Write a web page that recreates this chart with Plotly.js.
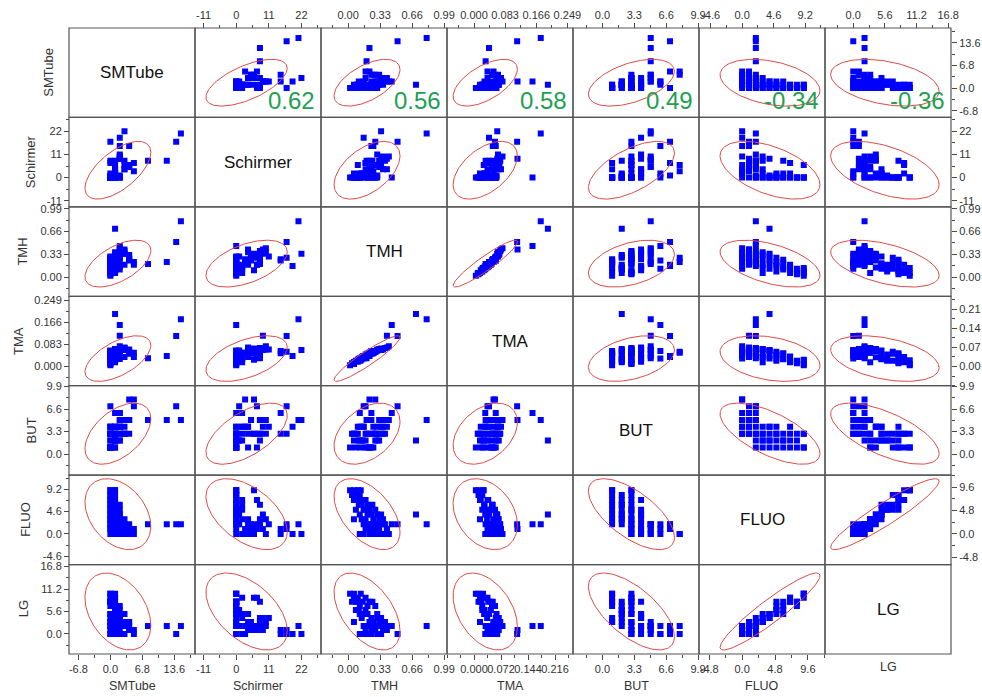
<!DOCTYPE html>
<html>
<head>
<meta charset="utf-8">
<script src="https://cdn.plot.ly/plotly-3.0.1.min.js"></script>
<style>
  html, body { margin: 0; padding: 0; background: #fff; }
  #chart { width: 982px; height: 697px; }
</style>
</head>
<body>
<div id="chart"></div>
<script>
// Variables of the scatterplot matrix, in row / column order
const names = ["SMTube", "Schirmer", "TMH", "TMA", "BUT", "FLUO", "LG"];

// Per-subject measurements (null = not measured)
const smtube = [8, 12, 14, 15, 1, 2, 2,
  0, 0, 1, 1,  0, 1, 0,  0, 1, 0, 1,  0, 1, 0, 2,  0, 1, 2, 0, 1,  0, 2, 1, 2, 0,
  0, 1, 3, 2, 1, 0,  0, 1, 3, 2, 4, 0, 3,  0, 1, 4, 2, 5, 3, 0,  0, 1, 2, 4, 5, 3, 4, 2, 1];
const schirmer = [8, 8, 17, 21, null, 0, 9,
  0, 0, 6, 0,  0, 0, 0,  7, 0, 0, 2,  0, 2, 8, 0,  0, 1, 0, 2, 0,  0, 1, 0, 9, 0,
  0, 8, 4, 10, 2, 0,  0, 4, 6, 11, 5, 1, 8,  0, 3, 5, 15, 7, 4, 17,  0, 4, 19, 6, 3, 22, 15, 10, 2];
const tmh = [0.19, 0.22, 0.51, 0.81, 0.70, 0.45, 0.40,
  0.02, 0.06, 0.10, 0.13,  0.08, 0.12, 0.04,  0.18, 0.15, 0.10, 0.06,  0.20, 0.14, 0.25, 0.11,
  0.22, 0.18, 0.28, 0.16, 0.08,  0.24, 0.30, 0.20, 0.34, 0.12,  0.26, 0.32, 0.18, 0.36, 0.14, 0.06,
  0.28, 0.22, 0.34, 0.30, 0.24, 0.16, 0.38,  0.20, 0.26, 0.32, 0.24, 0.18, 0.40, 0.28,
  0.30, 0.36, 0.16, 0.28, 0.22, 0.34, 0.26, 0.42, 0.12];
const tma = [0.031, 0.040, 0.115, 0.178, 0.197, 0.156, 0.116,
  0.005, 0.010, 0.026, 0.024,  0.020, 0.022, 0.012,  0.036, 0.038, 0.018, 0.016,  0.048, 0.027, 0.050, 0.028,
  0.044, 0.045, 0.056, 0.030, 0.022,  0.058, 0.060, 0.040, 0.062, 0.030,  0.052, 0.066, 0.036, 0.064, 0.035, 0.016,
  0.058, 0.052, 0.068, 0.064, 0.048, 0.040, 0.070,  0.048, 0.052, 0.064, 0.058, 0.036, 0.072, 0.056,
  0.060, 0.066, 0.040, 0.056, 0.052, 0.062, 0.050, 0.076, 0.030];
const but = [5, 5, 7, 5, 2, 6, 5,
  1, 3, 3, 1,  1, 2, 3,  1, 2, 4, 3,  1, 2, 3, 2,  1, 2, 3, 4, 3,  1, 2, 3, 4, 4,
  1, 2, 3, 3, 4, 2,  2, 1, 3, 4, 5, 7, 3,  3, 4, 5, 6, 7, 4, 3,  3, 4, 4, 8, 8, 5, 3, 5, 6];
const fluo = [2, 2, 2, 2, 4, 2, 1,
  9, 9, 9, 9,  8, 8, 8,  7, 7, 7, 7,  6, 6, 6, 6,  5, 5, 5, 5, 5,  4, 4, 4, 4, 4,
  3, 3, 3, 3, 3, 3,  2, 2, 2, 2, 2, 2, 2,  1, 1, 1, 1, 1, 1, 1,  0, 0, 0, 0, 0, 0, 0, 0, 0];
const lg = [2, 2, 0, 2, null, 2, 1,
  10, 10, 9, 10,  8, 7, 8,  9, 8, 8, 9,  7, 5, 8, 6,  8, 6, 7, 5, 6,  4, 5, 5, 4, 5,
  3, 4, 5, 3, 4, 3,  2, 3, 2, 4, 1, 2, 3,  0, 2, 3, 0, 1, 2, 1,  0, 1, 0, 2, 0, 0, 1, 2, 0];
const columns = [smtube, schirmer, tmh, tma, but, fluo, lg];

// Axis ranges, shared by the row and the column of each variable
const axisRanges = [[-8.8, 18.0], [-13.9, 28.6], [-0.28, 1.02], [-0.072, 0.264],
                    [-3.05, 10.0], [-6.3, 12.1], [-5.0, 17.3]];

// Ticks on the left and top edges
const ticksLT = [null, [-11, 0, 11, 22], [0, 0.33, 0.66, 0.99], [0, 0.083, 0.166, 0.249],
                 [0, 3.3, 6.6, 9.9], [-4.6, 0, 4.6, 9.2], [0, 5.6, 11.2, 16.8]];
const labelsLT = [null, ["-11", "0", "11", "22"], ["0.00", "0.33", "0.66", "0.99"],
                  ["0.000", "0.083", "0.166", "0.249"], ["0.0", "3.3", "6.6", "9.9"],
                  ["-4.6", "0.0", "4.6", "9.2"], ["0.0", "5.6", "11.2", "16.8"]];
// Ticks on the right and bottom edges
const ticksRB = [[-6.8, 0, 6.8, 13.6], [-11, 0, 11, 22], [0, 0.33, 0.66, 0.99], [0, 0.072, 0.144, 0.216],
                 [0, 3.3, 6.6, 9.9], [-4.8, 0, 4.8, 9.6], null];
const labelsRight = [["-6.8", "0.0", "6.8", "13.6"], ["-11", "0", "11", "22"], ["0.00", "0.33", "0.66", "0.99"],
                     ["0.00", "0.07", "0.14", "0.21"], ["0.0", "3.3", "6.6", "9.9"],
                     ["-4.8", "0.0", "4.8", "9.6"], null];
const labelsBottom = [["-6.8", "0.0", "6.8", "13.6"], ["-11", "0", "11", "22"], ["0.00", "0.33", "0.66", "0.99"],
                      ["0.000", "0.072", "0.144", "0.216"], ["0.0", "3.3", "6.6", "9.9"],
                      ["-4.8", "0.0", "4.8", "9.6"], null];

// Bivariate summaries used for the 95% density ellipses
const means = [1.6, 3.5, 0.195, 0.030, 3.0, 4.07, 5.6];
const sds   = [2.86, 5.6, 0.139, 0.035, 1.82, 2.98, 3.92];
const corr = [
  [1.00, 0.62, 0.56, 0.58, 0.49, -0.34, -0.36],
  [0.62, 1.00, 0.50, 0.50, 0.60, -0.50, -0.50],
  [0.56, 0.50, 1.00, 0.93, 0.40, -0.50, -0.50],
  [0.58, 0.50, 0.93, 1.00, 0.38, -0.30, -0.40],
  [0.49, 0.60, 0.40, 0.38, 1.00, -0.65, -0.65],
  [-0.34, -0.50, -0.50, -0.30, -0.65, 1.00, 0.93],
  [-0.36, -0.50, -0.50, -0.40, -0.65, 0.93, 1.00]
];

const N = names.length;
const FONT = "Liberation Sans, Arial, sans-serif";
const AXIS_COLOR = "#4a4a4a";
const W = 982, H = 697, ML = 69, MR = 31, MT = 28, MB = 43;
const plotW = W - ML - MR, plotH = H - MT - MB;
const px2x = px => (px - ML) / plotW;
const py2y = py => (H - MB - py) / plotH;

const ax = i => (i === 0 ? "x" : "x" + (i + 1));
const ay = i => (i === 0 ? "y" : "y" + (i + 1));
const akey = id => id.replace(/^x/, "xaxis").replace(/^y/, "yaxis");

function ellipse(row, col) {
  const k = Math.sqrt(5.991);
  const r = corr[row][col];
  const xs = [], ys = [];
  for (let s = 0; s <= 120; s++) {
    const t = (2 * Math.PI * s) / 120;
    xs.push(means[col] + k * sds[col] * Math.cos(t));
    ys.push(means[row] + k * sds[row] * (r * Math.cos(t) + Math.sqrt(1 - r * r) * Math.sin(t)));
  }
  return { xs, ys };
}

const traces = [];
for (let r = 0; r < N; r++) {
  for (let c = 0; c < N; c++) {
    if (r === c) continue;
    traces.push({
      type: "scatter", mode: "markers",
      x: columns[c], y: columns[r],
      xaxis: ax(c), yaxis: ay(r),
      marker: { symbol: "square", size: 6, color: "#0000ff", line: { width: 0 } },
      hoverinfo: "skip"
    });
    const e = ellipse(r, c);
    traces.push({
      type: "scatter", mode: "lines",
      x: e.xs, y: e.ys,
      xaxis: ax(c), yaxis: ay(r),
      line: { color: "#dd4a48", width: 1 },
      hoverinfo: "skip"
    });
  }
}

function tickAxis(base, vals, text, range, minorStep) {
  const a = Object.assign({
    range: range, autorange: false, fixedrange: true,
    showgrid: false, zeroline: false, showline: false,
    tickangle: 0,
    tickfont: { family: FONT, size: 11, color: "#333" }
  }, base);
  if (vals) {
    Object.assign(a, {
      tickmode: "array", tickvals: vals, ticktext: text,
      ticks: "outside", ticklen: 5, tickwidth: 1, tickcolor: AXIS_COLOR,
      minor: { tick0: vals[0], dtick: minorStep, ticks: "outside", ticklen: 3,
               tickwidth: 1, tickcolor: AXIS_COLOR, showgrid: false }
    });
  } else {
    Object.assign(a, { ticks: "", showticklabels: false });
  }
  return a;
}

const layout = {
  width: W, height: H,
  margin: { l: ML, r: MR, t: MT, b: MB },
  paper_bgcolor: "#fff", plot_bgcolor: "rgba(0,0,0,0)",
  showlegend: false,
  font: { family: FONT, color: "#222" },
  shapes: [], annotations: []
};

for (let i = 0; i < N; i++) {
  const xd = [i / N, (i + 1) / N];
  const yd = [1 - (i + 1) / N, 1 - i / N];
  const stepLT = ticksLT[i] ? (ticksLT[i][1] - ticksLT[i][0]) / 2 : 1;
  const stepRB = ticksRB[i] ? (ticksRB[i][1] - ticksRB[i][0]) / 2 : 1;
  // bottom x axis of column i
  layout[akey(ax(i))] = tickAxis({ domain: xd, anchor: "free", position: 0, side: "bottom" },
    ticksRB[i], labelsBottom[i], axisRanges[i], stepRB);
  // top x axis of column i
  layout["xaxis" + (i + 1 + N)] = tickAxis({ domain: xd, anchor: "free", position: 1, side: "top", overlaying: ax(i) },
    ticksLT[i], labelsLT[i], axisRanges[i], stepLT);
  // left y axis of row i
  layout[akey(ay(i))] = tickAxis({ domain: yd, anchor: "free", position: 0, side: "left" },
    ticksLT[i], labelsLT[i], axisRanges[i], stepLT);
  // right y axis of row i
  layout["yaxis" + (i + 1 + N)] = tickAxis({ domain: yd, anchor: "free", position: 1, side: "right", overlaying: ay(i) },
    ticksRB[i], labelsRight[i], axisRanges[i], stepRB);

  // empty traces so the overlay axes belong to a subplot
  traces.push({ type: "scatter", x: [], y: [], xaxis: "x" + (i + 1 + N), yaxis: ay(i === 0 ? 1 : 0), hoverinfo: "skip" });
  traces.push({ type: "scatter", x: [], y: [], xaxis: ax(i === 0 ? 1 : 0), yaxis: "y" + (i + 1 + N), hoverinfo: "skip" });

  // variable name on the diagonal
  layout.annotations.push({
    xref: "paper", yref: "paper", x: (i + 0.5) / N, y: 1 - (i + 0.5) / N,
    xanchor: "center", yanchor: "middle",
    text: names[i], showarrow: false,
    font: { family: FONT, size: 17, color: "#111" }
  });
  // column title under the grid
  layout.annotations.push({
    xref: "paper", yref: "paper", x: (i + 0.5) / N, y: py2y(i === N - 1 ? 667 : 686),
    xanchor: "center", yanchor: "middle",
    text: names[i], showarrow: false,
    font: { family: FONT, size: 12.5, color: "#333" }
  });
}

// row titles on the left
const rowTitleX = [49, 30, 23, 18, 31, 26, 23];
for (let i = 0; i < N; i++) {
  layout.annotations.push({
    xref: "paper", yref: "paper", x: px2x(rowTitleX[i]), y: 1 - (i + 0.5) / N,
    xanchor: "center", yanchor: "middle",
    text: names[i], showarrow: false, textangle: -90,
    font: { family: FONT, size: 13, color: "#333" }
  });
}

// correlations of SMTube with the other variables
for (let c = 1; c < N; c++) {
  layout.annotations.push({
    xref: "paper", yref: "paper",
    x: (c + 1) / N - 4 / plotW, y: 1 - 1 / N + 1 / plotH,
    xanchor: "right", yanchor: "bottom",
    text: corr[0][c].toFixed(2), showarrow: false,
    font: { family: FONT, size: 24, color: "#22a050" }
  });
}

// cell frames
for (let r = 0; r < N; r++) {
  for (let c = 0; c < N; c++) {
    layout.shapes.push({
      type: "rect", xref: "paper", yref: "paper",
      x0: c / N, x1: (c + 1) / N, y0: 1 - (r + 1) / N, y1: 1 - r / N,
      line: { color: "#555", width: 1.2 }, layer: "above"
    });
  }
}

Plotly.newPlot("chart", traces, layout, { staticPlot: true, displayModeBar: false });
</script>
</body>
</html>
